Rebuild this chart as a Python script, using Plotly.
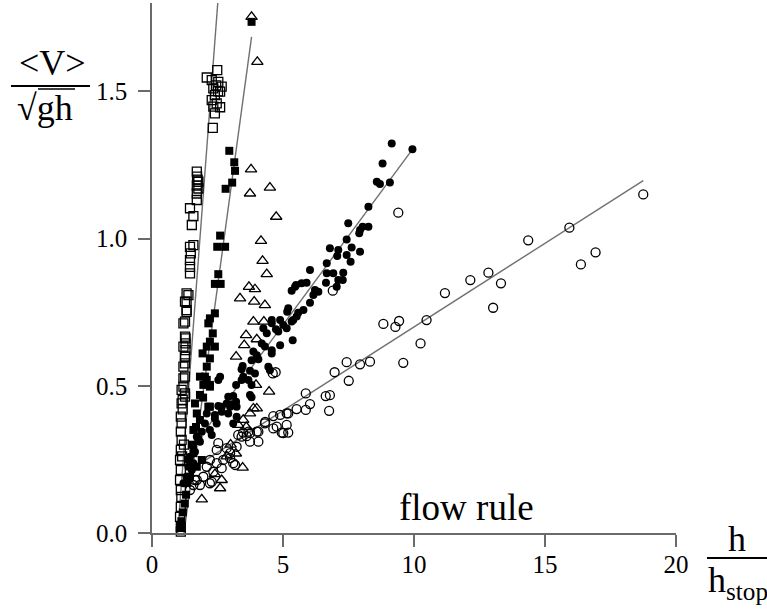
import plotly.graph_objects as go

# ---------------- data ----------------
# open squares
os_x = [2.49, 2.09, 2.28, 2.53, 2.66, 2.34, 2.60, 2.40, 2.28, 2.47, 2.60, 2.34, 2.40, 2.52, 2.45, 2.32,
        1.71, 1.72, 1.77, 1.71, 1.77, 1.71, 1.74, 1.71, 1.45, 1.58, 1.52, 1.58, 1.45,
        1.48, 1.45, 1.45, 1.45, 1.39, 1.32, 1.32, 1.26, 1.28, 1.28, 1.28, 1.26, 1.26, 1.20, 1.13, 1.26, 1.17,
        1.10, 1.13, 1.10, 1.13, 1.10, 1.07, 1.10, 1.07, 1.10, 1.12, 1.10, 1.07, 1.10, 1.10,
        1.32, 1.26, 1.32, 1.20, 1.26, 1.20, 1.26, 1.20, 1.26, 1.20, 1.26, 1.13, 1.17, 1.22, 1.15]
os_y = [1.572, 1.547, 1.538, 1.532, 1.516, 1.510, 1.499, 1.487, 1.470, 1.459, 1.446, 1.448, 1.425, 1.500, 1.520, 1.376,
        1.227, 1.210, 1.193, 1.180, 1.170, 1.153, 1.200, 1.131, 1.103, 1.076, 1.046, 0.978, 0.972,
        0.950, 0.927, 0.904, 0.882, 0.808, 0.786, 0.751, 0.718, 0.661, 0.644, 0.621, 0.599, 0.576, 0.525, 0.486, 0.474, 0.452,
        0.395, 0.372, 0.344, 0.316, 0.282, 0.248, 0.214, 0.180, 0.146, 0.123, 0.089, 0.055, 0.021, 0.005,
        0.814, 0.786, 0.757, 0.712, 0.667, 0.633, 0.599, 0.565, 0.531, 0.497, 0.463, 0.440, 0.420, 0.300, 0.260]

# filled squares
fs_x = [3.80, 2.95, 3.14, 3.17, 3.06, 2.81, 2.60, 2.49, 2.79, 2.53, 2.40, 2.62, 2.40, 2.21, 2.15, 2.32,
        2.40, 2.21, 2.09, 1.93, 2.21, 2.09, 2.02, 1.83, 1.96, 2.21, 2.09, 1.83, 2.21, 1.64, 2.15, 2.21,
        1.71, 1.83, 1.58, 1.77, 1.58, 1.90, 1.71, 1.45, 1.52, 1.40, 1.35, 1.30, 1.25, 1.18, 1.12, 1.10, 1.95, 1.68]
fs_y = [1.736, 1.298, 1.259, 1.230, 1.190, 1.169, 1.010, 0.972, 0.972, 0.879, 0.846, 0.846, 0.746, 0.729, 0.712, 0.678,
        0.633, 0.650, 0.633, 0.610, 0.593, 0.565, 0.531, 0.531, 0.503, 0.503, 0.520, 0.469, 0.497, 0.440, 0.429, 0.429,
        0.406, 0.384, 0.350, 0.316, 0.271, 0.248, 0.225, 0.191, 0.300, 0.250, 0.170, 0.130, 0.100, 0.070, 0.040, 0.020, 0.460, 0.360]

# open triangles
tr_x = [3.80, 4.02, 3.78, 4.50, 3.74, 4.74, 4.16, 4.22, 4.38, 3.70, 3.93, 3.36, 3.90, 4.31, 3.87, 4.27,
        3.59, 4.00, 3.52, 3.21, 3.97, 4.47, 3.87, 4.00, 3.74, 3.48, 3.29, 3.46, 2.60, 1.90, 2.66, 3.00,
        2.85, 3.20, 2.40, 3.60]
tr_y = [1.753, 1.600, 1.235, 1.173, 1.153, 1.074, 0.992, 0.924, 0.879, 0.836, 0.828, 0.797, 0.786, 0.774, 0.718, 0.718,
        0.672, 0.658, 0.638, 0.599, 0.503, 0.480, 0.423, 0.423, 0.406, 0.384, 0.367, 0.222, 0.152, 0.114, 0.180, 0.300,
        0.260, 0.270, 0.200, 0.360]

# filled circles
fc_x = [9.15, 9.94, 8.80, 8.58, 8.70, 9.08, 8.26, 7.49, 8.26, 7.94, 8.04, 7.91, 7.43, 6.79, 7.11, 7.62, 7.94,
        7.43, 7.07, 6.67, 7.58, 6.03, 6.67, 6.92, 7.30, 6.64, 7.11, 7.05, 7.28, 5.90, 5.71, 5.50, 5.33, 5.46,
        6.22, 6.35, 6.16, 6.03, 5.20, 5.16, 5.78, 5.58, 5.52, 4.57, 4.57, 4.89, 5.39, 5.33, 5.01, 5.14, 4.73,
        4.82, 4.25, 4.38, 5.37, 4.89, 4.19, 4.31, 4.57, 4.57, 4.00, 3.87, 3.80, 3.46, 3.42, 4.06, 4.44, 4.50,
        3.74, 3.93, 3.48, 3.42, 3.68, 3.80, 3.21, 3.74, 3.80, 3.10, 3.21, 2.85, 2.98, 2.53, 2.40, 2.66, 2.91,
        3.23, 2.60, 2.53, 2.91, 3.04, 3.10, 2.47, 2.40, 2.09, 2.02, 2.66, 2.21, 2.28, 1.90, 1.71, 1.83, 1.58,
        1.64, 1.45, 1.58, 1.39, 1.52, 1.32, 1.20, 3.23]
fc_y = [1.323, 1.303, 1.255, 1.193, 1.185, 1.190, 1.108, 1.052, 1.040, 1.029, 1.040, 1.018, 0.997, 0.967, 0.961, 0.970, 0.955,
        0.944, 0.941, 0.916, 0.921, 0.893, 0.882, 0.882, 0.884, 0.850, 0.859, 0.836, 0.859, 0.850, 0.848, 0.842, 0.823, 0.836,
        0.825, 0.819, 0.808, 0.782, 0.763, 0.751, 0.757, 0.748, 0.735, 0.723, 0.712, 0.723, 0.723, 0.718, 0.706, 0.695, 0.692,
        0.684, 0.695, 0.678, 0.655, 0.638, 0.644, 0.633, 0.610, 0.621, 0.604, 0.616, 0.587, 0.567, 0.556, 0.590, 0.565, 0.553,
        0.551, 0.542, 0.531, 0.520, 0.520, 0.503, 0.503, 0.469, 0.461, 0.465, 0.446, 0.440, 0.429, 0.431, 0.401, 0.412, 0.406,
        0.429, 0.531, 0.520, 0.463, 0.437, 0.372, 0.372, 0.389, 0.406, 0.372, 0.429, 0.350, 0.333, 0.344, 0.327, 0.310, 0.293,
        0.276, 0.259, 0.237, 0.225, 0.214, 0.191, 0.169, 0.395]

# open circles
oc_x = [18.75, 15.93, 14.36, 16.93, 16.37, 12.84, 13.32, 9.40, 12.15, 11.18, 13.02, 10.48, 9.43, 9.29, 8.83,
        10.25, 9.59, 8.32, 7.94, 7.43, 6.97, 7.51, 5.87, 6.63, 6.79, 6.03, 5.87, 6.76, 6.90, 4.72, 4.61,
        5.52, 5.20, 4.63, 4.32, 4.63, 5.14, 4.95, 5.20, 4.06, 4.06, 3.74, 3.61,
        2.53, 2.85, 3.23, 3.42, 3.74, 4.00, 2.21, 2.47, 2.09, 2.34, 2.66, 1.96, 1.71, 1.58, 2.28, 2.98, 3.17, 1.45,
        3.29, 3.48, 3.68, 4.89, 5.14, 4.31, 4.76, 5.01, 2.72, 2.98, 2.47, 3.10, 1.64, 1.83, 2.21]
oc_y = [1.150, 1.037, 0.994, 0.953, 0.912, 0.884, 0.848, 1.088, 0.859, 0.815, 0.765, 0.723, 0.720, 0.700, 0.710,
        0.644, 0.578, 0.582, 0.573, 0.580, 0.546, 0.517, 0.474, 0.465, 0.468, 0.438, 0.418, 0.415, 0.823, 0.546, 0.542,
        0.421, 0.406, 0.397, 0.377, 0.355, 0.367, 0.341, 0.341, 0.344, 0.310, 0.310, 0.329,
        0.305, 0.288, 0.293, 0.327, 0.339, 0.344, 0.248, 0.237, 0.225, 0.208, 0.220, 0.191, 0.180, 0.163, 0.174, 0.254, 0.231, 0.146,
        0.333, 0.341, 0.344, 0.401, 0.406, 0.372, 0.361, 0.339, 0.248, 0.271, 0.282, 0.237, 0.180, 0.163, 0.169]

# fitted lines (end points)
l1_x = [0.98, 2.51]; l1_y = [0.0, 1.80]
l2_x = [1.22, 3.80]; l2_y = [0.0, 1.685]
l4_x = [1.50, 9.94]; l4_y = [0.285, 1.303]
l5_x = [2.00, 18.75]; l5_y = [0.245, 1.197]

x_ticks = [0, 5, 10, 15, 20]
y_ticks = [0.0, 0.5, 1.0, 1.5]

# ---------------- figure ----------------
W, H = 767, 612
L, R, T, B = 152, 91, 3, 79
PW, PH = W - L - R, H - T - B


def px(x):
    return (x - L) / PW


def py(y):
    return (H - B - y) / PH


fig = go.Figure()
line_style = dict(color="#707070", width=1.4)
for lx, ly in [(l1_x, l1_y), (l2_x, l2_y), (l4_x, l4_y), (l5_x, l5_y)]:
    fig.add_trace(go.Scatter(x=lx, y=ly, mode="lines", line=line_style,
                             showlegend=False, hoverinfo="skip", cliponaxis=False))

mk_line = dict(color="black", width=1.3)
fig.add_trace(go.Scatter(x=oc_x, y=oc_y, mode="markers", cliponaxis=False,
                         marker=dict(symbol="circle-open", size=9, color="black", line=mk_line)))
fig.add_trace(go.Scatter(x=tr_x, y=tr_y, mode="markers", cliponaxis=False,
                         marker=dict(symbol="triangle-up-open", size=10, color="black", line=mk_line)))
fig.add_trace(go.Scatter(x=os_x, y=os_y, mode="markers", cliponaxis=False,
                         marker=dict(symbol="square-open", size=9, color="black", line=mk_line)))
fig.add_trace(go.Scatter(x=fs_x, y=fs_y, mode="markers", cliponaxis=False,
                         marker=dict(symbol="square", size=8, color="black", line=dict(width=0))))
fig.add_trace(go.Scatter(x=fc_x, y=fc_y, mode="markers", cliponaxis=False,
                         marker=dict(symbol="circle", size=8, color="black", line=dict(width=0))))

FONT = "Liberation Serif, Times New Roman, serif"
axis_common = dict(showline=True, linecolor="#6a6a6a", linewidth=1.5, ticks="outside", ticklen=12,
                   tickwidth=1.5, tickcolor="#6a6a6a", showgrid=False, zeroline=False,
                   tickfont=dict(family=FONT, size=25, color="black"))

fig.update_layout(
    width=W, height=H, margin=dict(l=L, r=R, t=T, b=B),
    paper_bgcolor="white", plot_bgcolor="white", showlegend=False,
    xaxis=dict(range=[0, 20], tickvals=x_ticks, ticklabelstandoff=-4, **axis_common),
    yaxis=dict(range=[0, 1.8], tickvals=y_ticks, tickformat=".1f", ticklabelstandoff=6, **axis_common),
    font=dict(family=FONT, color="black"),
)

ann = dict(xref="paper", yref="paper", showarrow=False, font=dict(family=FONT, size=36, color="black"))
fig.add_annotation(text="flow rule", x=px(466), y=py(507), xanchor="center", yanchor="middle",
                   xref="paper", yref="paper", showarrow=False, font=dict(family=FONT, size=37, color="black"))
fig.add_annotation(text="&lt;V&gt;", x=px(52), y=py(63), xanchor="center", yanchor="middle", **ann)
fig.add_annotation(text="√gh", x=px(45), y=py(108), xanchor="center", yanchor="middle", **ann)
fig.add_annotation(text="h", x=px(737), y=py(539), xanchor="center", yanchor="middle", **ann)
fig.add_annotation(text="h<sub>stop</sub>", x=px(706), y=py(582), xanchor="left", yanchor="middle", **ann)

fig.add_shape(type="line", xref="paper", yref="paper", x0=px(11), x1=px(90), y0=py(86), y1=py(86),
              line=dict(color="black", width=2))
fig.add_shape(type="line", xref="paper", yref="paper", x0=px(38), x1=px(75), y0=py(89), y1=py(89),
              line=dict(color="black", width=1.5))
fig.add_shape(type="line", xref="paper", yref="paper", x0=px(707), x1=px(767), y0=py(558), y1=py(558),
              line=dict(color="black", width=2))

fig.write_html("out.html")
